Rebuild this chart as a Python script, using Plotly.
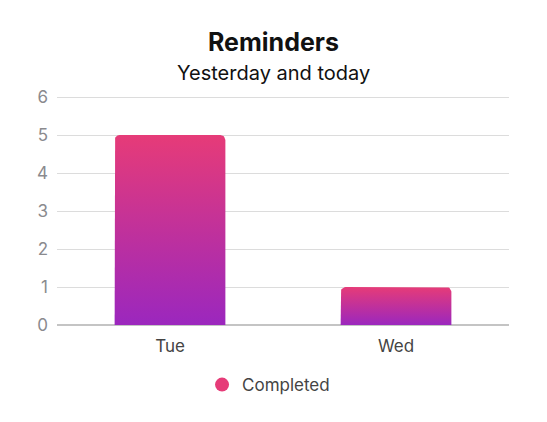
import numpy as np
import plotly.graph_objects as go

# data
days = ["Tue", "Wed"]
completed = [5, 1]
series_name = "Completed"
title = "Reminders"
subtitle = "Yesterday and today"

top_color = "#e63b78"
bottom_color = "#9b27be"
bar_width = 0.49

fig = go.Figure()

# rounded-top bars drawn as filled shapes so they can carry a vertical gradient
rx, ry = 5 / 226, 5 / 38
arc = np.linspace(0, np.pi / 2, 8)
for i, val in enumerate(completed):
    x0, x1 = i - bar_width / 2, i + bar_width / 2
    xs = [x0, x0]
    ys = [0, val - ry]
    xs += list(x0 + rx - rx * np.cos(arc))
    ys += list(val - ry + ry * np.sin(arc))
    xs += list(x1 - rx + rx * np.sin(arc))
    ys += list(val - ry + ry * np.cos(arc))
    xs += [x1, x0]
    ys += [0, 0]
    fig.add_trace(go.Scatter(
        x=xs, y=ys, fill="toself", mode="lines",
        line=dict(width=0),
        fillgradient=dict(type="vertical",
                          colorscale=[[0, bottom_color], [1, top_color]]),
        showlegend=False, hoverinfo="skip",
    ))

# legend entry
fig.add_trace(go.Scatter(
    x=[None], y=[None], mode="markers", name=series_name,
    marker=dict(color=top_color, size=14, symbol="circle"),
))

# plot area is 231px tall, so 0..6 spans 228px and the top gridline stays visible
fig.update_layout(
    width=539, height=414,
    paper_bgcolor="white", plot_bgcolor="white",
    font=dict(family="Inter, Roboto, sans-serif", color="#222"),
    margin=dict(l=49, r=38, t=86, b=97),
    legend=dict(
        orientation="h", x=0.468, xanchor="center", y=-0.26, yanchor="middle",
        font=dict(size=17, color="#444"),
    ),
    showlegend=True,
    annotations=[
        dict(text="<b>" + title + "</b>", xref="paper", yref="paper",
             x=0.478, y=1.225, xanchor="center", yanchor="middle",
             showarrow=False, font=dict(size=25, color="#111")),
        dict(text=subtitle, xref="paper", yref="paper",
             x=0.478, y=1.091, xanchor="center", yanchor="middle",
             showarrow=False, font=dict(size=20, color="#111")),
    ],
)

fig.update_xaxes(
    range=[-0.5, len(days) - 0.5],
    tickvals=list(range(len(days))), ticktext=days,
    showgrid=False, zeroline=False,
    showline=False,
    tickfont=dict(size=17, color="#444"),
    ticklabelstandoff=9,
)
fig.update_yaxes(
    range=[0, 6.08], dtick=1,
    showgrid=True, gridcolor="#dcdcdc", gridwidth=1,
    zeroline=True, zerolinecolor="#c4c4c4", zerolinewidth=2,
    tickfont=dict(size=17, color="#8a8a8e"),
    ticklabelstandoff=8,
    fixedrange=True,
)

fig.write_html("out.html")
